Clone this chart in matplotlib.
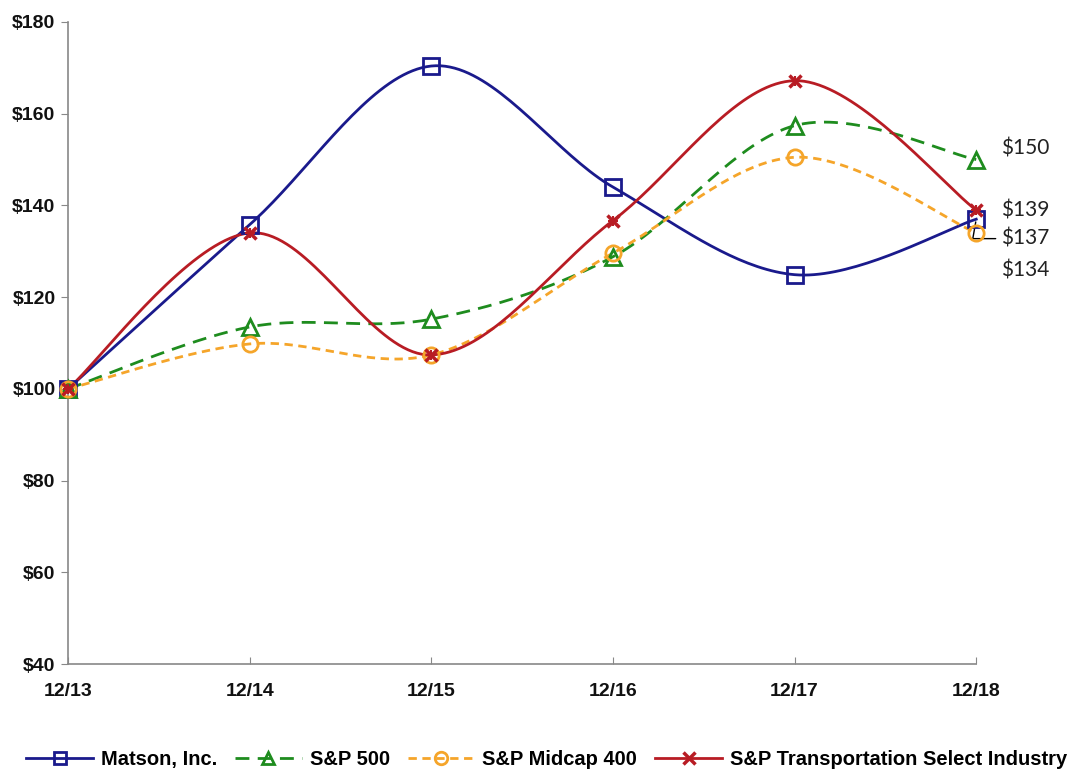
import numpy as np
import matplotlib.pyplot as plt

years = ['12/13', '12/14', '12/15', '12/16', '12/17', '12/18']
matson = [100, 135.8, 170.4, 144.0, 124.9, 137]
sp500 = [100, 113.5, 115.2, 128.8, 157.4, 150]
midcap = [100, 109.8, 107.4, 129.6, 150.5, 134]
transport = [100, 134.0, 107.4, 136.7, 167.2, 139]

yticks = [40, 60, 80, 100, 120, 140, 160, 180]


def smooth(x, y, n=40):
    # excel-like smoothing (catmull-rom bezier)
    x = np.asarray(x, float)
    y = np.asarray(y, float)
    px = np.concatenate([[x[0]], x, [x[-1]]])
    py = np.concatenate([[y[0]], y, [y[-1]]])
    xs, ys = [], []
    t = np.linspace(0, 1, n)
    for i in range(1, len(px) - 2):
        p0 = np.array([px[i], py[i]])
        p3 = np.array([px[i + 1], py[i + 1]])
        p1 = p0 + (np.array([px[i + 1], py[i + 1]]) - np.array([px[i - 1], py[i - 1]])) / 6
        p2 = p3 - (np.array([px[i + 2], py[i + 2]]) - np.array([px[i], py[i]])) / 6
        b = ((1 - t) ** 3)[:, None] * p0 + (3 * (1 - t) ** 2 * t)[:, None] * p1 \
            + (3 * (1 - t) * t ** 2)[:, None] * p2 + (t ** 3)[:, None] * p3
        xs.extend(b[:, 0])
        ys.extend(b[:, 1])
    return xs, ys


series = [
    ('Matson, Inc.', matson, '#1a1a8c', '-', 's'),
    ('S&P 500', sp500, '#1e8c1e', (0, (5, 3)), '^'),
    ('S&P Midcap 400', midcap, '#f5a52a', (0, (3, 2)), 'o'),
    ('S&P Transportation Select Industry', transport, '#b81c24', '-', 'x'),
]

fig = plt.figure(figsize=(10.87, 7.77), dpi=100)
ax = fig.add_axes([0.0626, 0.1454, 0.8355, 0.8263])

x = np.arange(len(years))
for name, vals, color, ls, mk in series:
    sx, sy = smooth(x, vals)
    ax.plot(sx, sy, color=color, linestyle=ls, linewidth=2, clip_on=False)
    if mk == 'x':
        ax.plot(x, vals, linestyle='none', marker='x', color=color, markersize=8,
                markeredgewidth=2.5, clip_on=False, zorder=4)
        ax.plot(x, vals, linestyle='none', marker='+', color=color, markersize=7,
                markeredgewidth=1.5, clip_on=False, zorder=4)
    else:
        ax.plot(x, vals, linestyle='none', marker=mk, color=color, markersize=11,
                markerfacecolor='none', markeredgewidth=2, clip_on=False, zorder=4)

# legend handles
handles = []
for name, vals, color, ls, mk in series:
    if mk == 'x':
        h, = ax.plot([], [], color=color, linestyle=ls, linewidth=2, marker='x',
                     markersize=8, markeredgewidth=2.5)
    else:
        h, = ax.plot([], [], color=color, linestyle=ls, linewidth=2, marker=mk,
                     markersize=9, markerfacecolor='none', markeredgewidth=2)
    handles.append(h)

# end labels
lab_font = dict(family='Lato', fontsize=15, color='#222222', va='center')
ax.annotate(f'${sp500[-1]:.0f}', (x[-1], sp500[-1]), xytext=(18, 8),
            textcoords='offset points', **lab_font)
ax.annotate(f'${transport[-1]:.0f}', (x[-1], transport[-1]), xytext=(18, 0),
            textcoords='offset points', **lab_font)
ax.annotate(f'${matson[-1]:.0f}', (x[-1], matson[-1]), xytext=(18, -14),
            textcoords='offset points',
            arrowprops=dict(arrowstyle='-', color='black', lw=1,
                            shrinkA=2, shrinkB=2,
                            connectionstyle='angle,angleA=0,angleB=80,rad=0'),
            **lab_font)
ax.annotate(f'${midcap[-1]:.0f}', (x[-1], midcap[-1]), xytext=(18, -27),
            textcoords='offset points', **lab_font)

ax.set_xlim(0, 5)
ax.set_ylim(40, 180)
ax.set_yticks(yticks)
ax.set_yticklabels([f'${v}' for v in yticks])
ax.set_xticks(x)
ax.set_xticklabels(years)
for s in ['top', 'right']:
    ax.spines[s].set_visible(False)
for s in ['left', 'bottom']:
    ax.spines[s].set_color('#888888')
    ax.spines[s].set_linewidth(1.2)
ax.tick_params(axis='y', direction='out', length=5, color='#888888', pad=4)
ax.tick_params(axis='x', direction='in', length=5, color='#888888', pad=14)
for lab in ax.get_xticklabels() + ax.get_yticklabels():
    lab.set_family('Liberation Sans')
    lab.set_fontweight('bold')
    lab.set_fontsize(14)
    lab.set_color('#111111')

fig.legend(handles, [s[0] for s in series], loc='lower center', bbox_to_anchor=(0.503, -0.013),
           ncol=4, frameon=False, handlelength=3.3, columnspacing=0.9, handletextpad=0.4,
           prop={'family': 'Liberation Sans', 'weight': 'bold', 'size': 14.5})

fig.savefig('out.png', dpi=100)
